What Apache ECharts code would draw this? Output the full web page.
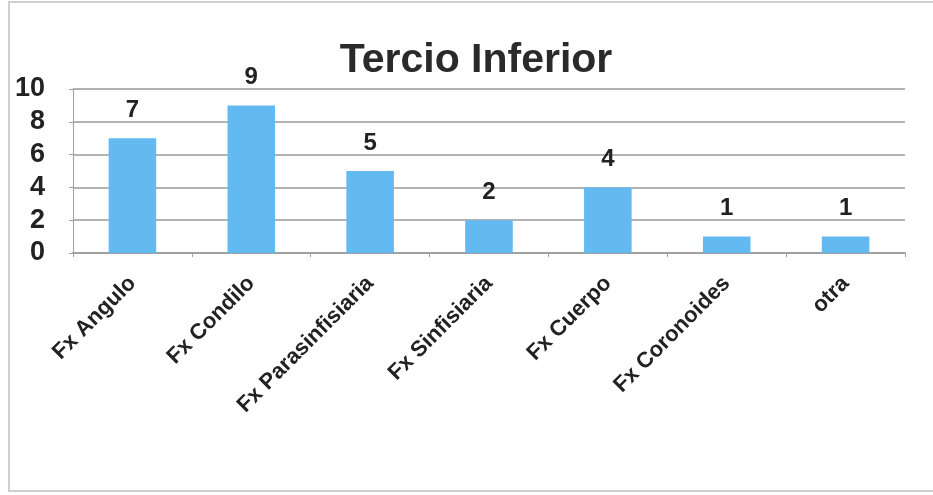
<!DOCTYPE html>
<html><head><meta charset="utf-8">
<script src="https://cdn.jsdelivr.net/npm/echarts@6/dist/echarts.min.js"></script>
<style>html,body{margin:0;padding:0;background:#fff}#c{width:933px;height:495px}</style>
</head><body><div id="c"></div>
<script>
const categories = ['Fx Angulo','Fx Condilo','Fx Parasinfisiaria','Fx Sinfisiaria','Fx Cuerpo','Fx Coronoides','otra'];
const values = [7, 9, 5, 2, 4, 1, 1];
const yTicks = [0, 2, 4, 6, 8, 10];
const titleText = 'Tercio Inferior';

const chart = echarts.init(document.getElementById('c'), null, {renderer:'canvas'});
chart.setOption({
  animation: false,
  backgroundColor: '#fff',
  graphic: [{type:'rect', shape:{x:9, y:2, width:940, height:489}, style:{fill:'none', stroke:'#cfcfcf', lineWidth:2}, silent:true}],
  title: {text: titleText, left: 471, textAlign:'center', top: 35,
    textStyle:{fontFamily:'Liberation Sans, Arial', fontWeight:'bold', fontSize:41, color:'#2a2a2a'}},
  grid: {left: 73, right: 28, top: 89, bottom: 242, containLabel:false},
  xAxis: {type:'category', data: categories, boundaryGap:true,
    axisLine:{lineStyle:{color:'#a0a0a0', width:2}},
    axisTick:{show:true, alignWithLabel:false, length:4, lineStyle:{color:'#a0a0a0'}},
    axisLabel:{rotate:45, interval:0, margin:27, fontFamily:'Liberation Sans, Arial', fontWeight:'bold', fontSize:22, color:'#222'}},
  yAxis: {type:'value', min:0, max:10, interval:2,
    axisLine:{show:true, lineStyle:{color:'#a0a0a0'}},
    axisTick:{show:true, length:4, lineStyle:{color:'#a0a0a0'}},
    splitLine:{lineStyle:{color:'#9a9a9a', width:1.5}},
    axisLabel:{margin:28, fontFamily:'Liberation Sans, Arial', fontWeight:'bold', fontSize:27, color:'#222',
      formatter: v => yTicks.includes(v) ? String(v) : ''}},
  series: [{type:'bar', data: values, barWidth:'40%',
    itemStyle:{color:'#62baf0'},
    label:{show:true, position:'top', distance:16, fontFamily:'Liberation Sans, Arial', fontWeight:'bold', fontSize:24, color:'#222'}}]
});
</script></body></html>
